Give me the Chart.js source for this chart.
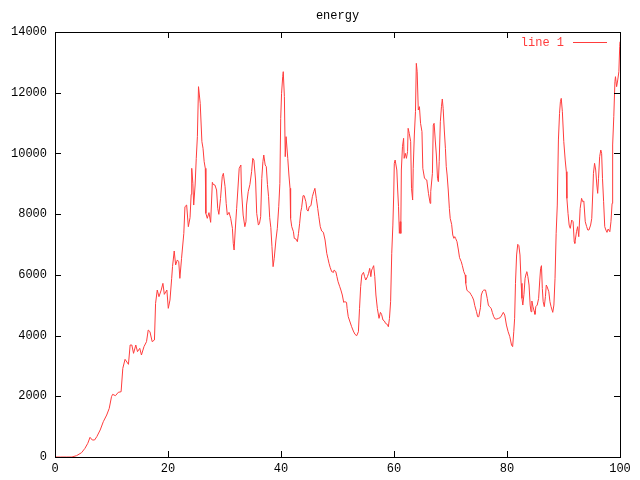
<!DOCTYPE html>
<html>
<head>
<meta charset="utf-8">
<title>energy</title>
<script src="https://cdn.jsdelivr.net/npm/chart.js@4"></script>
<style>
	html, body { margin: 0; padding: 0; background: #fff; }
	#wrap { width: 640px; height: 480px; }
</style>
</head>
<body>
<div id="wrap"><canvas id="chart_canvas" width="640" height="480"></canvas></div>
<script>
// ============================================================
// Data
// ============================================================
var chartTitle = "energy";
var seriesLabel = "line 1";
var xTicks = [0, 20, 40, 60, 80, 100];
var yTicks = [0, 2000, 4000, 6000, 8000, 10000, 12000, 14000];

var xValues = [
	0, 1, 2, 3.0, 3.8, 4.7, 5.3, 5.8, 6.2, 6.6, 7.0, 7.4, 8.0, 8.55, 9.15, 9.6, 10.0, 10.2, 10.7, 11.2, 11.7, 12.0, 12.4,
	13.0, 13.3, 13.6, 13.9, 14.3, 14.6, 15.0, 15.3, 15.75, 16.2, 16.5, 16.8, 17.2, 17.6, 17.8, 18.1, 18.4, 18.8, 19.1, 19.35, 19.8,
	20.05, 20.35, 20.65, 20.8, 21.1, 21.35, 21.65, 21.9, 22.1, 22.4, 22.8, 23.0, 23.3, 23.6, 23.9, 24.1, 24.2, 24.4, 24.55, 24.8,
	25.0, 25.2, 25.4, 25.7, 26.0, 26.2, 26.4, 26.6, 26.7, 26.95, 27.25, 27.55, 27.85, 28.0, 28.3, 28.6, 28.8, 29.0, 29.3, 29.6, 29.8,
	30.1, 30.3, 30.5, 30.8, 31.1, 31.4, 31.55, 31.7, 31.9, 32.15, 32.35, 32.6, 32.9, 33.0, 33.3, 33.6, 33.8, 33.9, 34.2, 34.5, 34.8,
	35.0, 35.2, 35.5, 35.7, 36.0, 36.2, 36.4, 36.6, 36.8, 36.95, 37.2, 37.4, 37.6, 37.8, 38.0, 38.2, 38.4, 38.6, 38.8, 39.1, 39.35,
	39.6, 39.8, 39.95, 40.1, 40.3, 40.4, 40.6, 40.75, 40.9, 41.2, 41.4, 41.6, 41.7, 41.9, 42.2, 42.35, 42.65, 42.9, 43.1, 43.3, 43.5,
	43.65, 43.9, 44.1, 44.4, 44.6, 44.8, 45.0, 45.3, 45.55, 45.8, 46.0, 46.25, 46.5, 46.7, 46.95, 47.2, 47.5, 47.8, 48.1, 48.3, 48.5,
	48.7, 48.97, 49.3, 49.4, 49.7, 49.9, 50.1, 50.4, 50.6, 50.85, 51.1, 51.3, 51.6, 51.7, 51.9, 52.1, 52.5, 52.8, 53.1, 53.4, 53.7,
	53.9, 54.1, 54.3, 54.6, 54.8, 55.0, 55.3, 55.5, 55.7, 55.9, 56.05, 56.2, 56.4, 56.6, 56.8, 57.05, 57.35, 57.6, 57.8, 58.05, 58.3,
	58.5, 58.8, 59.0, 59.2, 59.4, 59.6, 59.8, 59.95, 60.05, 60.2, 60.5, 60.65, 60.8, 60.95, 61.1, 61.2, 61.3, 61.5, 61.7, 61.8, 62.0,
	62.2, 62.4, 62.5, 62.7, 62.95, 63.1, 63.3, 63.4, 63.6, 63.8, 63.95, 64.1, 64.3, 64.5, 64.7, 64.95, 65.1, 65.4, 65.8, 66.1, 66.4,
	66.5, 66.8, 66.95, 67.1, 67.3, 67.5, 67.7, 67.85, 68.0, 68.2, 68.4, 68.55, 68.7, 68.9, 69.1, 69.25, 69.4, 69.6, 69.8, 69.95, 70.2,
	70.4, 70.6, 70.75, 70.9, 71.15, 71.4, 71.6, 71.9, 72.1, 72.35, 72.6, 72.7, 72.9, 73.15, 73.4, 73.6, 73.85, 74.1, 74.3, 74.6, 74.8,
	75.0, 75.3, 75.45, 75.7, 75.9, 76.2, 76.5, 76.7, 76.9, 77.2, 77.4, 77.65, 77.9, 78.2, 78.5, 78.8, 79.1, 79.35, 79.6, 79.9, 80.2,
	80.5, 80.8, 81.0, 81.2, 81.35, 81.5, 81.7, 81.9, 82.1, 82.3, 82.5, 82.65, 82.8, 83.0, 83.2, 83.4, 83.5, 83.7, 83.9, 84.1, 84.25,
	84.4, 84.6, 84.8, 84.95, 85.1, 85.35, 85.6, 85.8, 85.95, 86.1, 86.25, 86.4, 86.6, 86.8, 86.95, 87.1, 87.4, 87.6, 87.8, 88.1, 88.3,
	88.5, 88.7, 88.9, 89.1, 89.3, 89.45, 89.6, 89.8, 90.05, 90.3, 90.5, 90.6, 90.8, 91.0, 91.2, 91.45, 91.7, 91.9, 92.0, 92.3, 92.5,
	92.7, 92.95, 93.2, 93.4, 93.6, 93.85, 94.1, 94.3, 94.5, 94.8, 95.0, 95.2, 95.3, 95.5, 95.7, 95.9, 96.05, 96.2, 96.4, 96.6, 96.75,
	96.9, 97.1, 97.3, 97.5, 97.7, 97.9, 98.2, 98.4, 98.6, 98.7, 98.9, 99.1, 99.2, 99.4, 99.6, 99.8, 99.95, 100
];

var energyValues = [
	0, 0, 0, 0, 43, 142, 285, 450, 648, 560, 560, 670, 890, 1163, 1383, 1603, 1987, 2064, 2020, 2130, 2150, 2920, 3217,
	3052, 3689, 3689, 3415, 3689, 3470, 3580, 3360, 3635, 3800, 4183, 4130, 3800, 3855, 5062, 5500, 5281, 5500, 5720, 5358, 5500,
	4897, 5170, 5885, 6270, 6786, 6325, 6490, 6435, 5885, 6545, 7367, 8246, 8300, 7587, 7884, 8652, 9509, 9015, 8300, 8960,
	9838, 10552, 12199, 11650, 10388, 10170, 9728, 9509, 8026, 7862, 8050, 7730, 9048, 8980, 8960, 8795, 8191, 7993, 8520, 9234, 9344,
	8905, 8355, 7970, 8060, 7860, 7532, 7038, 6818, 7477, 8191, 8762, 9509, 9619, 8795, 7970, 7587, 7750, 8300, 8740, 8980, 9400,
	9838, 9783, 9124, 8025, 7640, 7700, 7915, 9180, 9728, 9948, 9619, 9564, 8980, 8575, 7884, 7555, 6928, 6270, 6545, 7148, 7532,
	8246, 9015, 11155, 11980, 12528, 12693, 11870, 9893, 10552, 9838, 9289, 8850, 7860, 7587, 7422, 7203, 7180, 7093, 7367, 7700, 8080,
	8210, 8607, 8607, 8410, 8135, 8100, 8246, 8280, 8575, 8740, 8850, 8520, 8190, 7915, 7587, 7445, 7400, 7148, 6710, 6545, 6380,
	6248, 6105, 6083, 6160, 6105, 5940, 5775, 5610, 5500, 5336, 5094, 5116, 5094, 4897, 4622, 4512, 4292, 4150, 4040, 3996, 4127,
	4897, 5610, 5995, 6083, 5940, 5830, 5940, 6050, 6215, 5940, 6160, 6215, 6303, 5940, 5336, 4897, 4567, 4765, 4700, 4512, 4480,
	4402, 4370, 4292, 4567, 5116, 6710, 7640, 8630, 9674, 9783, 9454, 8795, 8246, 7367, 7750, 7367, 9454, 10224, 10497, 9838, 10003,
	9838, 10060, 10827, 10662, 10388, 8850, 8465, 9509, 10607, 11375, 12967, 12693, 11430, 11540, 10992, 10717, 9509, 9180, 9124, 8685, 8355,
	8740, 9344, 10937, 10992, 10443, 9948, 9180, 9070, 9728, 11046, 11540, 11793, 11485, 10772, 10168, 9564, 9289, 8795, 8190, 7860, 7665,
	7312, 7203, 7258, 7203, 7093, 6818, 6567, 6435, 6303, 6105, 5995, 5720, 5500, 5445, 5423, 5358, 5281, 5170, 4985, 4787, 4622,
	4622, 4920, 5336, 5467, 5500, 5500, 5226, 5006, 4952, 4897, 4765, 4622, 4545, 4545, 4567, 4590, 4677, 4765, 4677, 4347, 4127,
	3962, 3689, 3635, 4127, 4567, 5720, 6655, 7006, 6962, 6655, 5720, 5226, 5006, 5358, 5885, 6050, 6105, 5940, 5665, 5006, 4787,
	5138, 4952, 4810, 4700, 4952, 5006, 5226, 5830, 6215, 6303, 5555, 5116, 4952, 5281, 5665, 5610, 5445, 5116, 4952, 4765, 5006,
	5885, 7367, 8300, 10443, 11320, 11704, 11814, 11375, 10388, 9783, 9400, 8520, 8025, 7640, 7532, 7805, 7750, 7093, 7038, 7422, 7587,
	7258, 8190, 8520, 8410, 8430, 7750, 7587, 7477, 7477, 7640, 7860, 8795, 9344, 9674, 9454, 8960, 8685, 9180, 9893, 10113, 10003,
	9180, 8410, 7587, 7477, 7400, 7510, 7422, 7750, 8355, 10278, 11210, 12364, 12528, 12199, 12419, 12693, 13517, 13680
];

var FONT = "12px 'Liberation Mono', 'DejaVu Sans Mono', monospace";
var LINE_COLOR = "#ff3c3c";

// ============================================================
// Frame, inward ticks, title and legend (gnuplot look)
// ============================================================
var framePlugin = {
	id: "frame",
	afterDraw: function (chart) {
		var ctx = chart.ctx;
		var a = chart.chartArea;
		var sx = chart.scales.x;
		var sy = chart.scales.y;
		var tl = 6;
		ctx.save();
		ctx.strokeStyle = "#000";
		ctx.lineWidth = 1;
		ctx.beginPath();
		xTicks.forEach(function (v) {
			var px = Math.round(sx.getPixelForValue(v)) + 0.5;
			ctx.moveTo(px, a.bottom); ctx.lineTo(px, a.bottom - tl);
			ctx.moveTo(px, a.top); ctx.lineTo(px, a.top + tl);
		});
		yTicks.forEach(function (v) {
			var py = Math.round(sy.getPixelForValue(v)) + 0.5;
			ctx.moveTo(a.left, py); ctx.lineTo(a.left + tl, py);
			ctx.moveTo(a.right, py); ctx.lineTo(a.right - tl, py);
		});
		ctx.stroke();
		ctx.strokeRect(Math.round(a.left) + 0.5, Math.round(a.top) + 0.5,
			Math.round(a.right - a.left), Math.round(a.bottom - a.top));

		ctx.font = FONT;
		ctx.textBaseline = "middle";
		ctx.fillStyle = "#000";
		ctx.textAlign = "center";
		ctx.fillText(chartTitle, (a.left + a.right) / 2, 16);

		// legend: text then sample line
		ctx.fillStyle = LINE_COLOR;
		ctx.textAlign = "right";
		ctx.fillText(seriesLabel, 564, 43);
		ctx.strokeStyle = LINE_COLOR;
		ctx.beginPath();
		ctx.moveTo(573, 42.5); ctx.lineTo(607, 42.5);
		ctx.stroke();
		ctx.restore();
	}
};

var points = xValues.map(function (x, i) {
	return { x: x, y: energyValues[i] };
});

new Chart(document.getElementById("chart_canvas"), {
	type: "line",
	data: {
		datasets: [{
			label: seriesLabel,
			data: points,
			borderColor: LINE_COLOR,
			borderWidth: 1,
			pointRadius: 0,
			tension: 0,
			fill: false
		}]
	},
	options: {
		responsive: false,
		animation: false,
		events: [],
		layout: { padding: { top: 32, right: 20, left: 0, bottom: 0 } },
		plugins: {
			legend: { display: false },
			title: { display: false },
			tooltip: { enabled: false }
		},
		scales: {
			x: {
				type: "linear",
				min: 0,
				max: 100,
				afterFit: function (s) { s.height = 23; },
				afterBuildTicks: function (s) {
					s.ticks = xTicks.map(function (v) { return { value: v }; });
				},
				grid: { display: false, drawTicks: false },
				border: { display: false },
				ticks: { color: "#000", font: { family: "'Liberation Mono', 'DejaVu Sans Mono', monospace", size: 12 }, padding: 5, maxRotation: 0 }
			},
			y: {
				type: "linear",
				min: 0,
				max: 14000,
				afterFit: function (s) { s.width = 55; },
				afterBuildTicks: function (s) {
					s.ticks = yTicks.map(function (v) { return { value: v }; });
				},
				grid: { display: false, drawTicks: false },
				border: { display: false },
				ticks: {
					color: "#000",
					font: { family: "'Liberation Mono', 'DejaVu Sans Mono', monospace", size: 12 },
					padding: 8,
					callback: function (v) { return String(v); }
				}
			}
		}
	},
	plugins: [framePlugin]
});
</script>
</body>
</html>
